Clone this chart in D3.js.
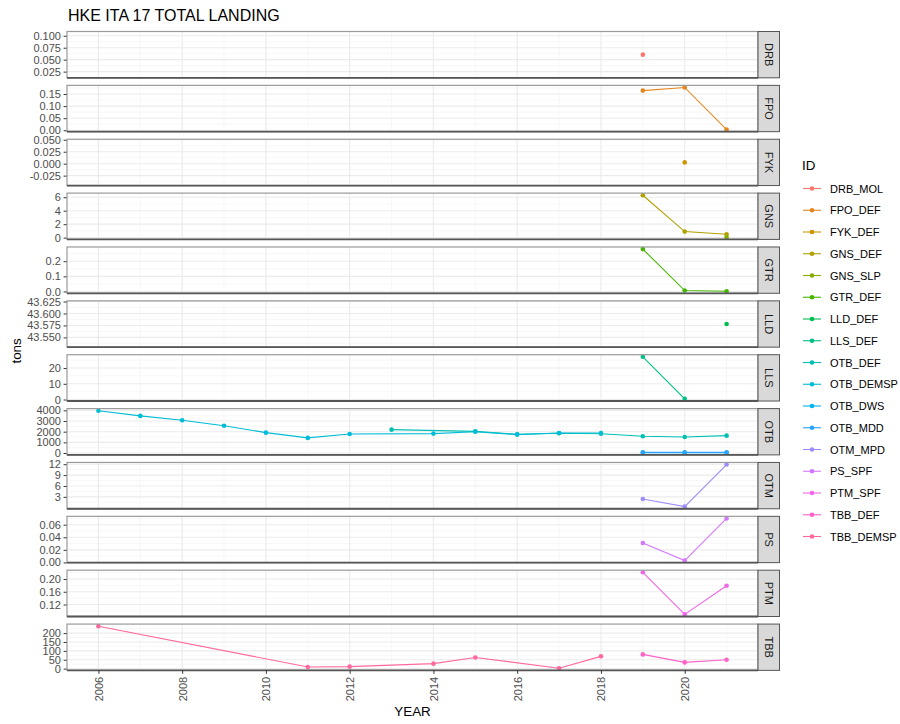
<!DOCTYPE html>
<html><head><meta charset="utf-8">
<script src="https://cdn.jsdelivr.net/npm/d3@7"></script>
<style>body{margin:0;background:#fff;} text{font-family:"Liberation Sans",Arial,sans-serif;}</style>
</head><body><svg id="c" width="900" height="724"></svg>
<script>
// ---------------- DATA ----------------
const panels = ["DRB","FPO","FYK","GNS","GTR","LLD","LLS","OTB","OTM","PS","PTM","TBB"];
const ids = ["DRB_MOL","FPO_DEF","FYK_DEF","GNS_DEF","GNS_SLP","GTR_DEF","LLD_DEF","LLS_DEF",
  "OTB_DEF","OTB_DEMSP","OTB_DWS","OTB_MDD","OTM_MPD","PS_SPF","PTM_SPF","TBB_DEF","TBB_DEMSP"];

const DRB_MOL_years = [2019];              const DRB_MOL_tons = [0.0605];
const FPO_DEF_years = [2019,2020,2021];    const FPO_DEF_tons = [0.164,0.177,0.003];
const FYK_DEF_years = [2020];              const FYK_DEF_tons = [0.0027];
const GNS_DEF_years = [2019,2020,2021];    const GNS_DEF_tons = [6.3,0.9,0.5];
const GNS_SLP_years = [2021];              const GNS_SLP_tons = [0.05];
const GTR_DEF_years = [2019,2020,2021];    const GTR_DEF_tons = [0.28,0.006,0.002];
const LLD_DEF_years = [2021];              const LLD_DEF_tons = [43.578];
const LLS_DEF_years = [2019,2020];         const LLS_DEF_tons = [27.1,0.4];
const OTB_DEF_years = [2013,2015,2016,2017,2018,2019,2020,2021];
const OTB_DEF_tons  = [2190,2030,1760,1850,1800,1570,1505,1630];
const OTB_DEMSP_years = [2006,2007,2008,2009,2010,2011,2012,2014,2015,2016,2017,2018];
const OTB_DEMSP_tons  = [3970,3480,3075,2560,1910,1415,1780,1820,2000,1725,1880,1875];
const OTB_DWS_years = [2019,2020,2021];    const OTB_DWS_tons = [25,20,25];
const OTB_MDD_years = [2019,2020,2021];    const OTB_MDD_tons = [60,55,60];
const OTM_MPD_years = [2019,2020,2021];    const OTM_MPD_tons = [2.4,0.3,11.9];
const PS_SPF_years  = [2019,2020,2021];    const PS_SPF_tons  = [0.031,0.003,0.070];
const PTM_SPF_years = [2019,2020,2021];    const PTM_SPF_tons = [0.221,0.089,0.179];
const TBB_DEF_years = [2019,2020,2021];    const TBB_DEF_tons = [80,35,50];
const TBB_DEMSP_years = [2006,2011,2012,2014,2015,2017,2018];
const TBB_DEMSP_tons  = [239,9,11,28,63,2,69];

// tick labels
const xTicks = [2006,2008,2010,2012,2014,2016,2018,2020];
const DRB_ticks = ["0.025","0.050","0.075","0.100"];
const FPO_ticks = ["0.00","0.05","0.10","0.15"];
const FYK_ticks = ["-0.025","0.000","0.025","0.050"];
const GNS_ticks = ["0","2","4","6"];
const GTR_ticks = ["0.0","0.1","0.2"];
const LLD_ticks = ["43.550","43.575","43.600","43.625"];
const LLS_ticks = ["0","10","20"];
const OTB_ticks = ["0","1000","2000","3000","4000"];
const OTM_ticks = ["3","6","9","12"];
const PS_ticks  = ["0.00","0.02","0.04","0.06"];
const PTM_ticks = ["0.12","0.16","0.20"];
const TBB_ticks = ["0","50","100","150","200"];

// ---------------- BUILD ----------------
const seriesTable = {
  DRB_MOL:[DRB_MOL_years,DRB_MOL_tons], FPO_DEF:[FPO_DEF_years,FPO_DEF_tons], FYK_DEF:[FYK_DEF_years,FYK_DEF_tons],
  GNS_DEF:[GNS_DEF_years,GNS_DEF_tons], GNS_SLP:[GNS_SLP_years,GNS_SLP_tons], GTR_DEF:[GTR_DEF_years,GTR_DEF_tons],
  LLD_DEF:[LLD_DEF_years,LLD_DEF_tons], LLS_DEF:[LLS_DEF_years,LLS_DEF_tons], OTB_DEF:[OTB_DEF_years,OTB_DEF_tons],
  OTB_DEMSP:[OTB_DEMSP_years,OTB_DEMSP_tons], OTB_DWS:[OTB_DWS_years,OTB_DWS_tons], OTB_MDD:[OTB_MDD_years,OTB_MDD_tons],
  OTM_MPD:[OTM_MPD_years,OTM_MPD_tons], PS_SPF:[PS_SPF_years,PS_SPF_tons], PTM_SPF:[PTM_SPF_years,PTM_SPF_tons],
  TBB_DEF:[TBB_DEF_years,TBB_DEF_tons], TBB_DEMSP:[TBB_DEMSP_years,TBB_DEMSP_tons]
};
const tickTable = {DRB:DRB_ticks,FPO:FPO_ticks,FYK:FYK_ticks,GNS:GNS_ticks,GTR:GTR_ticks,LLD:LLD_ticks,
  LLS:LLS_ticks,OTB:OTB_ticks,OTM:OTM_ticks,PS:PS_ticks,PTM:PTM_ticks,TBB:TBB_ticks};

const series = ids.map(id => ({id, panel:id.split("_")[0],
  pts: seriesTable[id][0].map((y,i)=>({year:y, tons:seriesTable[id][1][i]}))}));

// ggplot-like hue palette (polar LUV)
function hclLuv(h, c, l){
  const hr = h*Math.PI/180, U = c*Math.cos(hr), V = c*Math.sin(hr);
  const Xn=95.047, Yn=100, Zn=108.883;
  const Y = Yn*(l>8 ? Math.pow((l+16)/116,3) : l/903.3);
  const den = Xn+15*Yn+3*Zn, un = 4*Xn/den, vn = 9*Yn/den;
  const u = U/(13*l)+un, v = V/(13*l)+vn;
  const X = 9*Y*u/(4*v), Z = -X/3 - 5*Y + 3*Y/v;
  const x=X/100,y=Y/100,z=Z/100;
  let r = 3.240479*x-1.537150*y-0.498535*z, g=-0.969256*x+1.875992*y+0.041556*z, b=0.055648*x-0.204043*y+1.057311*z;
  const gam = t => { t = t<=0.0031308 ? 12.92*t : 1.055*Math.pow(t,1/2.4)-0.055; return Math.round(Math.max(0,Math.min(1,t))*255); };
  return d3.rgb(gam(r),gam(g),gam(b)).formatHex();
}
const nC = ids.length;
const color = d3.scaleOrdinal().domain(ids).range(ids.map((d,i)=>hclLuv(15+360/nC*i,100,65)));

const svg = d3.select("#c");
const F = '"Liberation Sans",Arial,sans-serif';
const L = 67, R = 758, top0 = 31.5, step = 53.87, ph = 46.3, stripW = 21.5;

const x = d3.scaleLinear().domain([2005.25, 2021.75]).range([L, R]);
const xMinor = d3.range(2005, 2023, 2).filter(v => v>2005.25 && v<2021.75);

svg.append("text").attr("x", 68).attr("y", 21).attr("font-size", 16).attr("fill","#000")
  .text("HKE ITA 17 TOTAL LANDING");

panels.forEach((p, pi) => {
  const y0 = top0 + pi*step, y1 = y0 + ph;
  const ps = series.filter(s => s.panel === p);
  const vals = ps.flatMap(s => s.pts.map(d => d.tons));
  let [mn, mx] = d3.extent(vals);
  let dom;
  if (mx - mn === 0) dom = [mn - 0.0484, mx + 0.0484];
  else { const e = (mx-mn)*0.05; dom = [mn - e, mx + e]; }
  const y = d3.scaleLinear().domain(dom).range([y1, y0]);
  const tl = tickTable[p], tv = tl.map(Number);
  const st = tv[1]-tv[0];
  const minor = [tv[0]-st/2, ...tv.map(v=>v+st/2)].filter(v => v>dom[0] && v<dom[1]);
  const g = svg.append("g");
  g.append("rect").attr("x",L).attr("y",y0).attr("width",R-L).attr("height",ph).attr("fill","#fff");
  // minor grid
  g.selectAll(null).data(minor).join("line").attr("x1",L).attr("x2",R)
    .attr("y1",d=>y(d)).attr("y2",d=>y(d)).attr("stroke","#f2f2f2").attr("stroke-width",0.6);
  g.selectAll(null).data(xMinor).join("line").attr("y1",y0).attr("y2",y1)
    .attr("x1",d=>x(d)).attr("x2",d=>x(d)).attr("stroke","#f2f2f2").attr("stroke-width",0.6);
  // major grid
  g.selectAll(null).data(tv).join("line").attr("x1",L).attr("x2",R)
    .attr("y1",d=>y(d)).attr("y2",d=>y(d)).attr("stroke","#ebebeb").attr("stroke-width",1.1);
  g.selectAll(null).data(xTicks).join("line").attr("y1",y0).attr("y2",y1)
    .attr("x1",d=>x(d)).attr("x2",d=>x(d)).attr("stroke","#ebebeb").attr("stroke-width",1.1);
  // y axis
  const ax = d3.axisLeft(y).tickValues(tv).tickFormat((d,i)=>tl[i]).tickSize(3.4).tickPadding(2.7);
  const ag = g.append("g").attr("transform",`translate(${L},0)`).call(ax);
  ag.select(".domain").remove();
  ag.selectAll(".tick line").attr("stroke","#333").attr("stroke-width",1);
  ag.selectAll(".tick text").attr("fill","#4d4d4d").attr("font-size",11).attr("font-family",F);
  // series
  const line = d3.line().x(d=>x(d.year)).y(d=>y(d.tons));
  ps.forEach(s => {
    g.append("path").datum(s.pts).attr("d",line).attr("fill","none")
      .attr("stroke",color(s.id)).attr("stroke-width",1.1);
    g.selectAll(null).data(s.pts).join("circle").attr("cx",d=>x(d.year)).attr("cy",d=>y(d.tons))
      .attr("r",2.3).attr("fill",color(s.id));
  });
  // border
  g.append("rect").attr("x",L).attr("y",y0).attr("width",R-L).attr("height",ph)
    .attr("fill","none").attr("stroke","#9a9a9a").attr("stroke-width",1.2);
  g.append("line").attr("x1",L).attr("x2",R).attr("y1",y1).attr("y2",y1).attr("stroke","#555").attr("stroke-width",1.8);
  // strip
  g.append("rect").attr("x",R).attr("y",y0).attr("width",stripW).attr("height",ph)
    .attr("fill","#d9d9d9").attr("stroke","#555").attr("stroke-width",1);
  g.append("text").attr("transform",`translate(${R+stripW/2},${y0+ph/2}) rotate(90)`)
    .attr("text-anchor","middle").attr("dominant-baseline","central")
    .attr("font-size",11).attr("fill","#1a1a1a").text(p);
  // x axis at bottom
  if (pi === panels.length-1) {
    const xa = d3.axisBottom(x).tickValues(xTicks).tickFormat(d3.format("d")).tickSize(3.4).tickPadding(2.7);
    const xg = svg.append("g").attr("transform",`translate(0,${y1})`).call(xa);
    xg.select(".domain").remove();
    xg.selectAll(".tick line").attr("stroke","#333");
    xg.selectAll(".tick text").attr("fill","#4d4d4d").attr("font-size",11).attr("font-family",F)
      .attr("transform","rotate(-90)").attr("text-anchor","end").attr("dy",null)
      .attr("y",0).attr("x",-6.5).attr("dominant-baseline","central");
  }
});

// axis titles
svg.append("text").attr("x", (L+R)/2).attr("y", 716).attr("text-anchor","middle")
  .attr("font-size",13.4).attr("fill","#000").text("YEAR");
svg.append("text").attr("transform",`translate(21,${top0 + (11*step+ph)/2}) rotate(-90)`)
  .attr("text-anchor","middle").attr("font-size",13.4).attr("fill","#000").text("tons");

// legend
const lg = svg.append("g");
lg.append("text").attr("x",802).attr("y",170).attr("font-size",13.4).attr("fill","#000").text("ID");
const ly0 = 188.5, lstep = 21.75;
ids.forEach((id,i) => {
  const cy = ly0 + i*lstep;
  lg.append("line").attr("x1",803).attr("x2",821).attr("y1",cy).attr("y2",cy)
    .attr("stroke",color(id)).attr("stroke-width",1.1);
  lg.append("circle").attr("cx",812).attr("cy",cy).attr("r",2.3).attr("fill",color(id));
  lg.append("text").attr("x",830).attr("y",cy).attr("dominant-baseline","central")
    .attr("font-size",11).attr("fill","#000").text(id);
});
</script></body></html>
